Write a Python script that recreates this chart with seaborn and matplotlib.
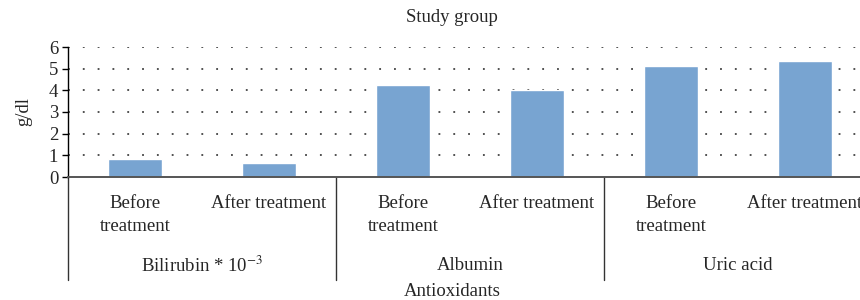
import pandas
import seaborn as sns
from matplotlib import pyplot as plt
from matplotlib import transforms

# data
groups = ["Bilirubin * 10$^{-3}$", "Albumin", "Uric acid"]
stages = ["Before\ntreatment", "After treatment"]
values = [0.83, 0.65, 4.25, 4.02, 5.12, 5.35]
y_ticks = [0, 1, 2, 3, 4, 5, 6]

rows = []
i = 0
for g in groups:
    for s in stages:
        rows.append([f"{g}|{s}", g, s, values[i]])
        i += 1
df = pandas.DataFrame(rows, columns=["key", "group", "stage", "value"])

sns.set_style("white")
plt.rcParams["font.family"] = ["Liberation Serif", "DejaVu Serif"]
plt.rcParams["mathtext.fontset"] = "stix"
FS = 13.5

fig = plt.figure(figsize=(8.6, 3.0), dpi=100)
# plot area runs past the right edge of the picture, as in the reference
ax = fig.add_axes([68 / 860, 1 - 177 / 300, 804 / 860, 130 / 300])

sns.barplot(data=df, x="key", y="value", order=df["key"].tolist(), color="#78a4d1",
            saturation=1, width=0.40, ax=ax, zorder=3)

ax.set_ylim(0, 6)
ax.set_xlim(-0.5, len(df) - 0.5)
ax.set_yticks(y_ticks)
ax.set_yticklabels([str(t) for t in y_ticks], fontsize=FS)
ax.set_xticks(range(len(df)))
ax.set_xticklabels(df["stage"].tolist(), fontsize=FS, linespacing=1.45, va="top")
ax.tick_params(axis="x", length=0, pad=13)
ax.tick_params(axis="y", length=4, width=1, color="black", direction="out", pad=3, left=True)

for t in y_ticks[1:]:
    ax.axhline(t, color="#222222", linewidth=1.1, linestyle=(0, (1.2, 8.5)), zorder=1)

for side in ["top", "right"]:
    ax.spines[side].set_visible(False)
ax.spines["bottom"].set_color("#555555")
ax.spines["bottom"].set_linewidth(1.4)
ax.spines["bottom"].set_zorder(4)
ax.spines["left"].set_color("black")
ax.spines["left"].set_linewidth(1.0)

# group separators and group labels below the axis
trans = transforms.blended_transform_factory(ax.transData, ax.transAxes)
n = len(stages)
for k, g in enumerate(groups):
    left = k * n - 0.5
    ax.plot([left, left], [0, -0.79], color="#333333", linewidth=1.0,
            transform=trans, clip_on=False)
    ax.text(left + n / 2, -0.68, g, transform=trans, ha="center", va="center", fontsize=FS)

ax.set_xlabel("")
ax.set_ylabel("g/dl", fontsize=FS, labelpad=12)
fig.text(452 / 860, 1 - 18 / 300, "Study group", ha="center", va="center", fontsize=FS)
fig.text(452 / 860, 1 - 291 / 300, "Antioxidants", ha="center", va="center", fontsize=FS)

fig.savefig("out.png", dpi=100)
